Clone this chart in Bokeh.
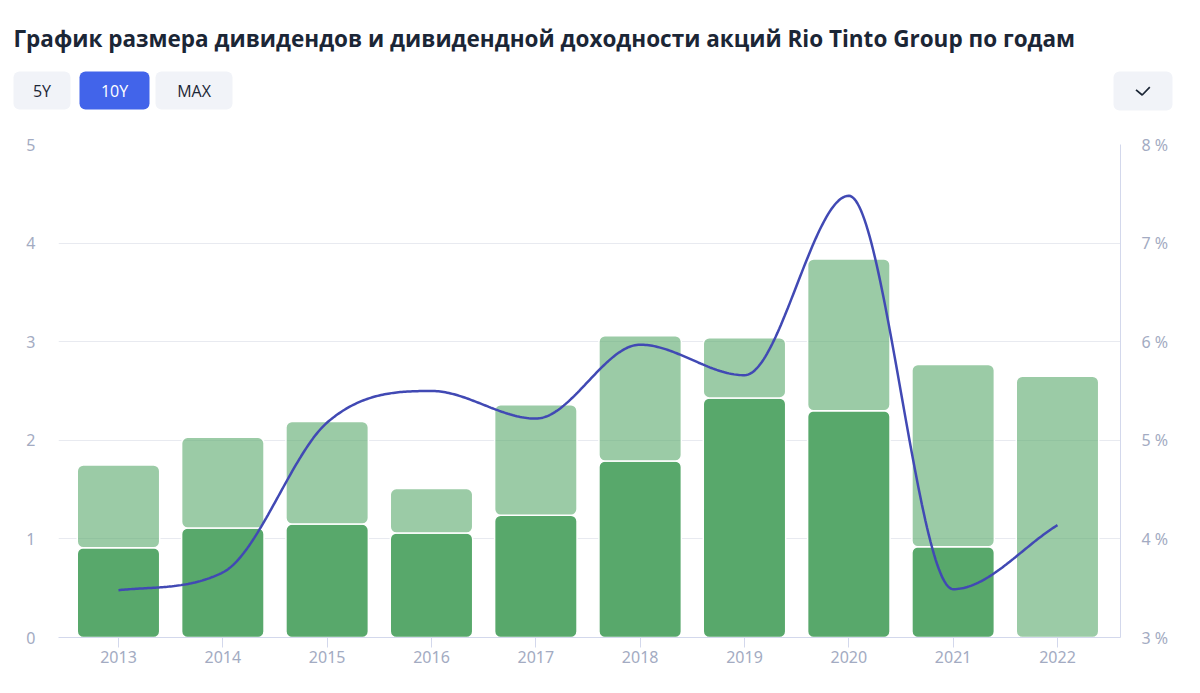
import numpy as np
from bokeh.plotting import figure
from bokeh.models import Range1d, LinearAxis, FixedTicker, ColumnDataSource
from bokeh.layouts import column
from bokeh.embed import file_html
from bokeh.resources import INLINE
from bokeh.core.properties import value

# ---------------- data ----------------
TITLE = "График размера дивидендов и дивидендной доходности акций Rio Tinto Group по годам"
period_buttons = ["5Y", "10Y", "MAX"]
years = [2013, 2014, 2015, 2016, 2017, 2018, 2019, 2020, 2021, 2022]
year_labels = ["2013", "2014", "2015", "2016", "2017", "2018", "2019", "2020", "2021", "2022"]
div_lower = [0.91, 1.11, 1.15, 1.06, 1.24, 1.79, 2.43, 2.30, 0.92, 0.00]
div_upper = [0.84, 0.92, 1.04, 0.45, 1.12, 1.27, 0.61, 1.54, 1.85, 2.65]
yield_pct = [3.48, 3.66, 5.18, 5.50, 5.22, 5.97, 5.66, 7.48, 3.49, 4.14]
left_ticks = [0, 1, 2, 3, 4, 5]
pct_ticks = [3, 4, 5, 6, 7, 8]
pct_labels = ["3 %", "4 %", "5 %", "6 %", "7 %", "8 %"]

# ---------------- style ----------------
GREEN = "#58a86b"
LINE = "#4149b4"
TICK_COLOR = "#a3abc2"
AXIS_COLOR = "#d3d8ec"
GRID_COLOR = "#e8eaf0"
DARK = "#1b2636"
BTN_BG = "#f1f3f8"
BTN_ACTIVE = "#4264ea"

W = 1184
HH = 130                       # header height
CH = 677 - HH                  # chart figure height
FL, FR = 58, 1120              # plot frame left/right (px)
FT, FB = 144 - HH, 637 - HH    # plot frame top/bottom inside chart figure


def monotone_curve(xs, ys, n=60):
    xs = np.asarray(xs, float)
    ys = np.asarray(ys, float)
    h = np.diff(xs)
    d = np.diff(ys) / h
    m = np.zeros_like(ys)
    m[0] = d[0]
    m[-1] = d[-1]
    for i in range(1, len(xs) - 1):
        if d[i - 1] * d[i] <= 0:
            m[i] = 0.0
        else:
            m[i] = (d[i - 1] + d[i]) / 2
    for i in range(len(d)):
        if d[i] == 0:
            m[i] = m[i + 1] = 0.0
            continue
        a = m[i] / d[i]
        b = m[i + 1] / d[i]
        s = a * a + b * b
        if s > 9:
            t = 3 / np.sqrt(s)
            m[i] = t * a * d[i]
            m[i + 1] = t * b * d[i]
    out_x, out_y = [], []
    for i in range(len(d)):
        t = np.linspace(0, 1, n, endpoint=(i == len(d) - 1))
        h00 = 2 * t**3 - 3 * t**2 + 1
        h10 = t**3 - 2 * t**2 + t
        h01 = -2 * t**3 + 3 * t**2
        h11 = t**3 - t**2
        out_x.extend(xs[i] + t * h[i])
        out_y.extend(h00 * ys[i] + h10 * h[i] * m[i] + h01 * ys[i + 1] + h11 * h[i] * m[i + 1])
    return out_x, out_y


# ---------------- header ----------------
hdr = figure(width=W, height=HH, x_range=Range1d(0, W), y_range=Range1d(HH, 0),
             toolbar_location=None, output_backend="svg", min_border=0,
             min_border_left=0, min_border_right=0, min_border_top=0, min_border_bottom=0,
             x_axis_location=None, y_axis_location=None, outline_line_color=None,
             frame_align=False)
hdr.grid.visible = False
hdr.text(x=[13], y=[38], text=[TITLE], text_font=value("Open Sans"), text_font_size="22.5px",
         text_font_style="bold", text_color=DARK, text_baseline="alphabetic")

btn_left = [13, 79, 155, 1113]
btn_right = [70, 149, 232, 1172]
btn_fill = [BTN_BG, BTN_ACTIVE, BTN_BG, BTN_BG]
hdr.quad(left=btn_left, right=btn_right, top=[71] * 4, bottom=[109, 109, 109, 110],
         fill_color=btn_fill, line_color=None, border_radius=6)
hdr.text(x=[(l + r) / 2 for l, r in zip(btn_left[:3], btn_right[:3])], y=[90] * 3,
         text=period_buttons, text_font=value("Open Sans"), text_font_size="16px",
         text_color=[DARK, "white", DARK], text_align="center", text_baseline="middle")
hdr.line(x=[1135.5, 1141.7, 1149.3], y=[89.3, 94.5, 86.7], line_color=DARK, line_width=1.7)

# ---------------- chart ----------------
p = figure(width=W, height=CH, x_range=Range1d(2012.425, 2022.604), y_range=Range1d(0, 5),
           toolbar_location=None, output_backend="svg",
           min_border_left=FL, min_border_right=W - FR, min_border_top=FT,
           min_border_bottom=CH - FB, outline_line_color=None, frame_align=False)
p.extra_y_ranges = {"pct": Range1d(3, 8)}

lower_idx = [i for i, v in enumerate(div_lower) if v > 0]
src_low = ColumnDataSource(dict(x=[years[i] for i in lower_idx],
                                top=[div_lower[i] for i in lower_idx]))
src_up = ColumnDataSource(dict(x=years, bottom=div_lower,
                               top=[a + b for a, b in zip(div_lower, div_upper)]))
p.vbar(x="x", bottom=0, top="top", width=0.79, source=src_low, fill_color=GREEN,
       line_color="white", line_width=1.5, border_radius=6)
p.vbar(x="x", bottom="bottom", top="top", width=0.79, source=src_up, fill_color=GREEN,
       fill_alpha=0.6, line_color="white", line_width=1.5, border_radius=6)

cx, cy = monotone_curve(years, yield_pct)
p.line(cx, cy, y_range_name="pct", line_color=LINE, line_width=2.5)

# axes
p.xgrid.visible = False
p.ygrid.ticker = FixedTicker(ticks=left_ticks)
p.ygrid.grid_line_color = GRID_COLOR

xa = p.xaxis[0]
xa.ticker = FixedTicker(ticks=years)
xa.major_label_overrides = {y: l for y, l in zip(years, year_labels)}
xa.axis_line_color = AXIS_COLOR
xa.major_tick_line_color = AXIS_COLOR
xa.major_tick_in = 0
xa.major_tick_out = 10
xa.minor_tick_line_color = None
xa.major_label_standoff = 3
xa.major_label_text_color = TICK_COLOR
xa.major_label_text_font = "Noto Sans"
xa.major_label_text_font_size = "16px"

ya = p.yaxis[0]
ya.ticker = FixedTicker(ticks=left_ticks)
ya.axis_line_color = None
ya.major_tick_line_color = None
ya.minor_tick_line_color = None
ya.major_tick_in = 0
ya.major_tick_out = 0
ya.major_label_standoff = 23
ya.major_label_text_color = TICK_COLOR
ya.major_label_text_font = "Noto Sans"
ya.major_label_text_font_size = "16px"

ra = LinearAxis(y_range_name="pct", ticker=FixedTicker(ticks=pct_ticks))
ra.major_label_overrides = {t: l for t, l in zip(pct_ticks, pct_labels)}
ra.axis_line_color = AXIS_COLOR
ra.major_tick_line_color = None
ra.minor_tick_line_color = None
ra.major_tick_in = 0
ra.major_tick_out = 0
ra.major_label_standoff = 21
ra.major_label_text_color = TICK_COLOR
ra.major_label_text_font = "Noto Sans"
ra.major_label_text_font_size = "16px"
p.add_layout(ra, "right")

layout = column(hdr, p, spacing=0)
open("out.html", "w").write(file_html(layout, INLINE))
